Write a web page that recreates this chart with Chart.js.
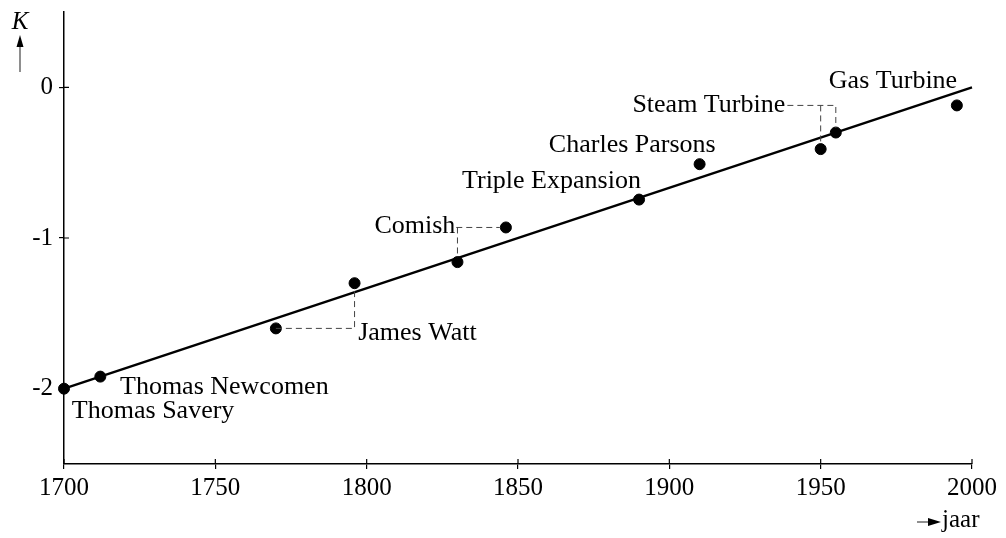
<!DOCTYPE html>
<html>
<head>
<meta charset="utf-8">
<script src="https://cdn.jsdelivr.net/npm/chart.js@4.4.1/dist/chart.umd.min.js"></script>
<style>
  html, body { margin: 0; padding: 0; background: #fff; }
  #wrap { width: 1006px; height: 538px; }
</style>
</head>
<body>
<div id="wrap"><canvas id="kChart" width="1006" height="538"></canvas></div>
<script>
// data
const years = [1700, 1712, 1770, 1796, 1830, 1846, 1890, 1910, 1950, 1955, 1995];
const kValues = [-2.0, -1.92, -1.6, -1.3, -1.16, -0.93, -0.745, -0.51, -0.41, -0.3, -0.12];
const trendYears = [1700, 2000];
const trendK = [-2.0, 0.0];
const xTicks = [1700, 1750, 1800, 1850, 1900, 1950, 2000];
const yTicks = [-2, -1, 0];

const FONT = '"Liberation Serif", "Times New Roman", serif';

// text labels (data coords) and dashed connectors
const notes = [
    { text: 'Thomas Savery', x: 1702.6, y: -2.15, align: 'left' },
    { text: 'Thomas Newcomen', x: 1718.5, y: -1.99, align: 'left' },
    { text: 'James Watt', x: 1797.2, y: -1.63, align: 'left' },
    { text: 'Comish', x: 1829.3, y: -0.92, align: 'right' },
    { text: 'Triple Expansion', x: 1831.5, y: -0.625, align: 'left' },
    { text: 'Charles Parsons', x: 1860.2, y: -0.385, align: 'left' },
    { text: 'Steam Turbine', x: 1938.3, y: -0.12, align: 'right' },
    { text: 'Gas Turbine', x: 1952.7, y: 0.04, align: 'left' }
];
const dashes = [
    [[1770, -1.6], [1796, -1.6], [1796, -1.33]],
    [[1829.6, -0.93], [1844, -0.93]],
    [[1830, -0.93], [1830, -1.13]],
    [[1939, -0.12], [1955, -0.12], [1955, -0.27]],
    [[1950, -0.12], [1950, -0.37]]
];

const extras = {
    id: 'extras',
    afterDraw(chart) {
        const c = chart.ctx;
        const xs = chart.scales.x, ys = chart.scales.y;
        const area = chart.chartArea;
        c.save();
        // inner half of the ticks
        c.strokeStyle = '#000';
        c.lineWidth = 1.2;
        c.beginPath();
        xTicks.forEach(v => {
            const px = xs.getPixelForValue(v);
            c.moveTo(px, area.bottom);
            c.lineTo(px, area.bottom - 5);
        });
        yTicks.forEach(v => {
            const py = ys.getPixelForValue(v);
            c.moveTo(area.left, py);
            c.lineTo(area.left + 5, py);
        });
        c.stroke();

        // dashed connectors
        c.strokeStyle = '#444';
        c.lineWidth = 1;
        c.setLineDash([6, 4]);
        dashes.forEach(path => {
            c.beginPath();
            path.forEach((p, i) => {
                const px = xs.getPixelForValue(p[0]), py = ys.getPixelForValue(p[1]);
                if (i === 0) c.moveTo(px, py); else c.lineTo(px, py);
            });
            c.stroke();
        });
        c.setLineDash([]);

        // labels
        c.fillStyle = '#000';
        c.font = '26px ' + FONT;
        c.textBaseline = 'middle';
        notes.forEach(n => {
            c.textAlign = n.align;
            c.fillText(n.text, xs.getPixelForValue(n.x), ys.getPixelForValue(n.y));
        });

        // axis names with arrows
        c.font = 'italic 25px ' + FONT;
        c.textAlign = 'center';
        c.fillText('K', 20, 22);
        c.beginPath();
        c.lineWidth = 1.2;
        c.moveTo(20, 72);
        c.lineTo(20, 44);
        c.stroke();
        c.beginPath();
        c.moveTo(20, 35);
        c.lineTo(16.5, 47);
        c.lineTo(23.5, 47);
        c.closePath();
        c.fill();

        c.font = '25px ' + FONT;
        c.textAlign = 'left';
        c.fillText('jaar', 942, 520);
        c.beginPath();
        c.moveTo(917, 522);
        c.lineTo(930, 522);
        c.stroke();
        c.beginPath();
        c.moveTo(941, 522);
        c.lineTo(928, 518);
        c.lineTo(928, 526);
        c.closePath();
        c.fill();
        c.restore();
    }
};

const ctx = document.getElementById('kChart').getContext('2d');
const kChart = new Chart(ctx, {
    type: 'scatter',
    data: {
        datasets: [
            {
                label: 'trend',
                data: trendYears.map((x, i) => ({ x: x, y: trendK[i] })),
                showLine: true,
                borderColor: '#000',
                borderWidth: 2.5,
                pointRadius: 0,
                clip: false,
                order: 2
            },
            {
                label: 'K',
                data: years.map((x, i) => ({ x: x, y: kValues[i] })),
                backgroundColor: '#000',
                borderColor: '#000',
                pointRadius: 5.5,
                clip: false,
                order: 1
            }
        ]
    },
    options: {
        responsive: false,
        animation: false,
        layout: { padding: { top: 12, right: 34, left: 0, bottom: 0 } },
        scales: {
            x: {
                type: 'linear',
                min: 1700,
                max: 2000,
                afterBuildTicks: s => { s.ticks = xTicks.map(v => ({ value: v })); },
                afterFit: s => { s.height = 74; s.paddingLeft = 0; s.paddingRight = 0; },
                border: { color: '#000', width: 1.5 },
                grid: { drawOnChartArea: false, color: '#000', lineWidth: 1.2, tickLength: 5 },
                ticks: {
                    color: '#000', font: { family: FONT, size: 25 }, padding: 4, maxRotation: 0,
                    callback: v => String(v)
                }
            },
            y: {
                min: -2.5,
                max: 0.5,
                afterBuildTicks: s => { s.ticks = yTicks.map(v => ({ value: v })); },
                afterFit: s => { s.width = 64; s.paddingTop = 0; s.paddingBottom = 0; },
                border: { color: '#000', width: 1.5 },
                grid: { drawOnChartArea: false, color: '#000', lineWidth: 1.2, tickLength: 5 },
                ticks: { color: '#000', font: { family: FONT, size: 25 }, padding: 6, callback: v => String(v) }
            }
        },
        plugins: {
            legend: { display: false },
            tooltip: { enabled: false }
        }
    },
    plugins: [extras]
});
</script>
</body>
</html>
